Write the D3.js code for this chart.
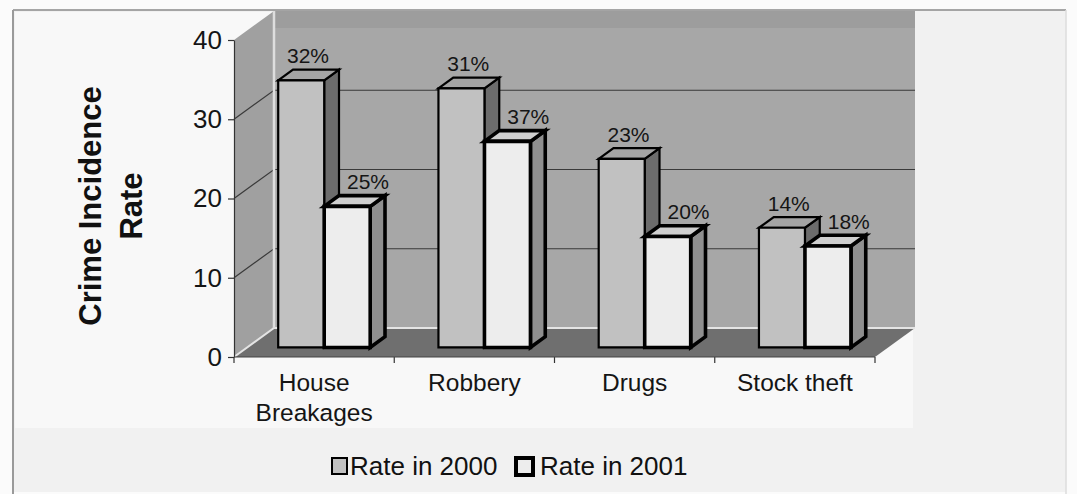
<!DOCTYPE html>
<html>
<head>
<meta charset="utf-8">
<script src="https://cdn.jsdelivr.net/npm/d3@7"></script>
<style>
  html, body { margin: 0; padding: 0; background: #f6f6f6; }
  svg { display: block; font-family: "Liberation Sans", Arial, Helvetica, sans-serif; }
</style>
</head>
<body>
<script>
// ---- data ----
const categories = ["House Breakages", "Robbery", "Drugs", "Stock theft"];
const categoryLines = [["House", "Breakages"], ["Robbery"], ["Drugs"], ["Stock theft"]];
const series = ["Rate in 2000", "Rate in 2001"];
const rate2000 = [33.7, 32.7, 23.8, 15.1];
const rate2001 = [17.8, 26.0, 14.0, 12.8];
const labels2000 = ["32%", "31%", "23%", "14%"];
const labels2001 = ["25%", "37%", "20%", "18%"];
const yTicks = [0, 10, 20, 30, 40];

const W = 1077, H = 494;
const svg = d3.select("body").append("svg").attr("width", W).attr("height", H);

// background / frame
svg.append("rect").attr("x", 0).attr("y", 0).attr("width", W).attr("height", H).attr("fill", "#fbfbfb");
svg.append("rect").attr("x", 13).attr("y", 10).attr("width", 1053).attr("height", 482).attr("fill", "#f1f1f1");
svg.append("rect").attr("x", 15).attr("y", 12).attr("width", 898).attr("height", 416).attr("fill", "#f8f8f8");
svg.append("line").attr("x1", 13).attr("y1", 10).attr("x2", 1066).attr("y2", 10).attr("stroke", "#8a8a8a").attr("stroke-width", 1.5);
svg.append("line").attr("x1", 13).attr("y1", 10).attr("x2", 13).attr("y2", 494).attr("stroke", "#9a9a9a").attr("stroke-width", 2);
svg.append("line").attr("x1", 1066).attr("y1", 10).attr("x2", 1066).attr("y2", 494).attr("stroke", "#dddddd").attr("stroke-width", 1.5);

// ---- scales ----
const x = d3.scaleBand().domain(categories).range([234, 875]);
const y = d3.scaleLinear().domain([0, 40]).range([357, 40]);
const sub = d3.scaleBand().domain(series).range([31, 123]);
const DX = 40, DY = -29;          // full depth projection
const zF = 0.33, zB = 0.70;       // bar depth span
const P = (px, v, z) => [px + z * DX, y(v) + z * DY];
const poly = pts => "M" + pts.map(p => p.join(",")).join("L") + "Z";

const x0 = x.range()[0], x1 = x.range()[1];
const vMax = y.domain()[1];

// ---- walls ----
const g = svg.append("g");
g.append("path").attr("d", poly([P(x0, vMax, 1), P(x1, vMax, 1), P(x1, 0, 1), P(x0, 0, 1)]))
  .attr("fill", "#a7a7a7");
g.append("path").attr("d", poly([P(x0, vMax, 1), P(x1, vMax, 1), [P(x1, vMax, 1)[0], P(x1, vMax, 1)[1] + 17], [P(x0, vMax, 1)[0], P(x0, vMax, 1)[1] + 17]]))
  .attr("fill", "#9d9d9d");
g.append("path").attr("d", poly([P(x0, vMax, 0), P(x0, vMax, 1), P(x0, 0, 1), P(x0, 0, 0)]))
  .attr("fill", "#a0a0a0");
g.append("path").attr("d", poly([P(x0, 0, 0), P(x1, 0, 0), P(x1, 0, 1), P(x0, 0, 1)]))
  .attr("fill", "#6f6f6f");

yTicks.filter(t => t > 0 && t < vMax).forEach(t => {
  const a = P(x0, t, 0), b = P(x0, t, 1), c = P(x1, t, 1);
  g.append("path").attr("d", `M${a}L${b}L${c}`).attr("fill", "none").attr("stroke", "#3a3a3a").attr("stroke-width", 1.2);
});
g.append("path").attr("d", `M${P(x0, 0, 0)}L${P(x0, 0, 1)}L${P(x1, 0, 1)}`).attr("fill", "none").attr("stroke", "#e4e4e4").attr("stroke-width", 2);
g.append("path").attr("d", `M${P(x0, 0, 1)}L${P(x0, vMax, 1)}`).attr("fill", "none").attr("stroke", "#dedede").attr("stroke-width", 2.5);

// ---- y axis ----
const yAxis = d3.axisLeft(y).tickValues(yTicks).tickSize(6).tickSizeOuter(0).tickPadding(6);
const ya = svg.append("g").attr("transform", `translate(${x0},0)`).call(yAxis);
ya.select(".domain").attr("stroke", "#333").attr("stroke-width", 1.2);
ya.selectAll(".tick line").attr("stroke", "#333").attr("stroke-width", 1.2);
ya.selectAll(".tick text").attr("font-size", 26).attr("fill", "#151515")
  .attr("font-family", "'Liberation Sans', Arial, sans-serif");

// ---- x axis ----
const bounds = categories.map(c => x(c)).concat([x1]);
svg.append("g").selectAll("line").data(bounds).join("line")
  .attr("x1", d => d).attr("x2", d => d).attr("y1", y(0)).attr("y2", y(0) + 6)
  .attr("stroke", "#333").attr("stroke-width", 1.2);
svg.append("line").attr("x1", x0).attr("x2", x1).attr("y1", y(0)).attr("y2", y(0)).attr("stroke", "#444").attr("stroke-width", 1);

const xl = svg.append("g").attr("font-size", 24.5).attr("fill", "#151515").attr("text-anchor", "middle");
categories.forEach((c, i) => {
  const t = xl.append("text").attr("x", x(c) + x.bandwidth() / 2).attr("y", y(0) + 34);
  categoryLines[i].forEach((ln, j) => {
    t.append("tspan").attr("x", x(c) + x.bandwidth() / 2).attr("dy", j === 0 ? 0 : 30).text(ln);
  });
});

// ---- bars ----
const styles = [
  { front: "#c1c1c1", top: "#a4a4a4", side: "#6c6c6c", sw: 2.2, labelDx: -8 },
  { front: "#ededed", top: "#cfcfcf", side: "#8f8f8f", sw: 3.6, labelDx: 6 }
];
const seriesVals = [rate2000, rate2001];
const seriesLabels = [labels2000, labels2001];
const bars = svg.append("g");
categories.forEach((c, i) => {
  series.forEach((s, k) => {
    const v = seriesVals[k][i];
    const st = styles[k];
    const L = x(c) + sub(s), R = L + sub.bandwidth();
    const gb = bars.append("g").attr("stroke", "#000").attr("stroke-width", st.sw).attr("stroke-linejoin", "miter");
    gb.append("path").attr("d", poly([P(R, 0, zF), P(R, v, zF), P(R, v, zB), P(R, 0, zB)])).attr("fill", st.side);
    gb.append("path").attr("d", poly([P(L, v, zF), P(R, v, zF), P(R, v, zB), P(L, v, zB)])).attr("fill", st.top);
    gb.append("path").attr("d", poly([P(L, 0, zF), P(R, 0, zF), P(R, v, zF), P(L, v, zF)])).attr("fill", st.front);
  });
});
categories.forEach((c, i) => {
  series.forEach((s, k) => {
    const v = seriesVals[k][i];
    const st = styles[k];
    const cx = x(c) + sub(s) + sub.bandwidth() / 2;
    const pt = P(cx, v, zB);
    svg.append("text").attr("x", pt[0] + st.labelDx).attr("y", pt[1] - 6.5)
      .attr("text-anchor", "middle").attr("font-size", 21).attr("fill", "#151515")
      .text(seriesLabels[k][i]);
  });
});

// ---- y title ----
const tt = svg.append("g").attr("transform", "translate(101,206) rotate(-90)")
  .attr("font-size", 31).attr("font-weight", "bold").attr("fill", "#111").attr("text-anchor", "middle");
tt.append("text").attr("x", 0).attr("y", 0).text("Crime Incidence");
tt.append("text").attr("x", 0).attr("y", 41).text("Rate");

// ---- legend ----
const leg = svg.append("g").attr("font-size", 26).attr("fill", "#111");
const legX = [332, 516], legTX = [350, 540];
series.forEach((s, k) => {
  const st = styles[k];
  leg.append("rect").attr("x", legX[k]).attr("y", 458).attr("width", k === 0 ? 15 : 17).attr("height", k === 0 ? 16 : 17)
    .attr("fill", st.front).attr("stroke", "#000").attr("stroke-width", k === 0 ? 2 : 4);
  leg.append("text").attr("x", legTX[k]).attr("y", 475).text(s);
});
</script>
</body>
</html>
